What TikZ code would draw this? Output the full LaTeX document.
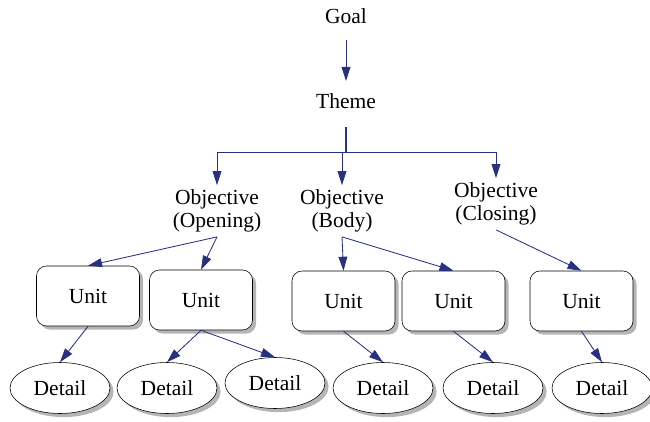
\documentclass[tikz,border=0pt]{standalone}
\usepackage{fontspec}
\setmainfont{Liberation Serif}
\usepackage{tikz}
\usetikzlibrary{shapes.geometric,arrows.meta,shadows,positioning}
\definecolor{linkblue}{RGB}{40,48,128}

\begin{document}
\begin{tikzpicture}[x=0.025cm, y=-0.025cm, font=\fontsize{15.3}{16.5}\selectfont]

    \tikzstyle{label} = [
        align=center,
        inner sep=3pt,
    ]
    \tikzstyle{unit} = [
        rectangle,
        rounded corners=0.25cm,
        draw,
        fill=white,
        %fill=blue!20,
        minimum width=2.575cm,
        minimum height=1.5cm,
        drop shadow={shadow xshift=0.09cm, shadow yshift=-0.09cm, fill=gray!85!black},
    ]
    \tikzstyle{detail} = [
        ellipse,
        draw,
        fill=white,
        minimum width=2.5cm,
        minimum height=1.275cm,
        inner sep=0pt,
        drop shadow={shadow xshift=0.09cm, shadow yshift=-0.09cm, fill=gray!85!black},
    ]
    \tikzstyle{line} = [
        draw=linkblue,
        line width=0.6pt,
        -{Triangle[length=0.35cm,width=0.22cm]},
    ]

    \useasboundingbox (0,0) rectangle (650,421);

    \node [label] (goal)  at (346,16)  {Goal};
    \node [label] (theme) at (346,101) {Theme};

    \node [label] (obo) at (217,211) {Objective\\(Opening)};
    \node [label] (obb) at (342,211) {Objective\\(Body)};
    \node [label] (obc) at (496,204) {Objective\\(Closing)};

    \node [unit] (u1) at (88,296)    {Unit};
    \node [unit] (u2) at (201,300)   {Unit};
    \node [unit] (u3) at (343.5,301) {Unit};
    \node [unit] (u4) at (453.5,301) {Unit};
    \node [unit] (u5) at (581.5,301) {Unit};

    \node [detail] (d1) at (60,388)  {Detail};
    \node [detail] (d2) at (167,388) {Detail};
    \node [detail] (d3) at (275,383) {Detail};
    \node [detail] (d4) at (383,388) {Detail};
    \node [detail] (d5) at (493,388) {Detail};
    \node [detail] (d6) at (602,388) {Detail};

    \coordinate (fork) at (346,152);

    \path [line, shorten <=0.3cm, shorten >=0.2cm] (goal) -- (theme);
    \draw [linkblue, line width=1.2pt, shorten <=0.35cm] (theme.south) -- (fork);
    \path [line] (fork) -| (obo.north);
    \path [line] (fork) -| (obb.north);
    \path [line] (fork) -| (obc.north);

    \path [line] (obo.south) -- (u1.north);
    \path [line] (obo.south) -- (u2.north);
    \path [line] (obb.south) -- (u3.north);
    \path [line] (obb.south) -- (u4.north);
    \path [line] (obc.south) -- (u5.north);

    \path [line] (u1.south) -- (d1.north);
    \path [line] (u2.south) -- (d2.north);
    \path [line] (u2.south) -- (d3.north);
    \path [line] (u3.south) -- (d4.north);
    \path [line] (u4.south) -- (d5.north);
    \path [line] (u5.south) -- (d6.north);

\end{tikzpicture}
\end{document}
